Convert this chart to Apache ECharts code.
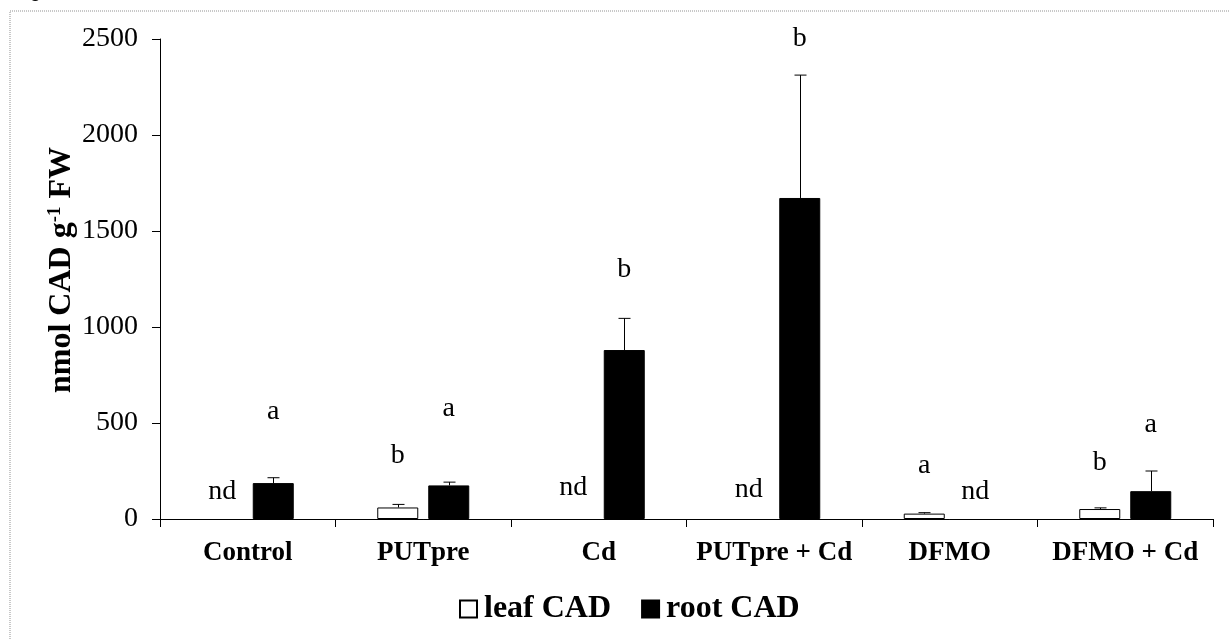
<!DOCTYPE html>
<html><head><meta charset="utf-8">
<script src="https://cdn.jsdelivr.net/npm/echarts@6/dist/echarts.min.js"></script>
<style>html,body{margin:0;padding:0;background:#fff}#c{width:1230px;height:639px}</style>
</head><body><div id="c"></div>
<script>
// ---- data ----
const categories = ['Control', 'PUTpre', 'Cd', 'PUTpre + Cd', 'DFMO', 'DFMO + Cd'];
const seriesNames = ['leaf CAD', 'root CAD'];
const leafCAD = [null, 60, null, null, 28, 52];        // null where "nd"
const leafErr = [0, 16, 0, 0, 5, 6];
const rootCAD = [187, 175, 880, 1672, null, 145];
const rootErr = [28, 17, 165, 640, 0, 105];
const leafLetters = ['nd', 'b', 'nd', 'nd', 'a', 'b'];
const rootLetters = ['a', 'a', 'b', 'b', 'nd', 'a'];
const leafLetterAt = [142, 329, 163, 152, 277, 293];   // axis value at letter centre
const rootLetterAt = [558, 574, 1297, 2500, 142, 491];
const yMin = 0, yMax = 2500, yStep = 500;

// ---- chart ----
const FONT = '"Liberation Serif", "Times New Roman", serif';
const BAR_W = 41, BAR_GAP = 10;
const OFF = (BAR_W + BAR_GAP) / 2;

const chart = echarts.init(document.getElementById('c'), null, {renderer: 'canvas'});

function errItem(vals, errs, dir) {
  return function (params, api) {
    const i = api.value(0);
    const v = vals[i], e = errs[i];
    if (v == null || !e) return null;
    const p0 = api.coord([i, v]);
    const p1 = api.coord([i, v + e]);
    const x = Math.round(p0[0] + dir * OFF) + 0.5;
    return {
      type: 'group',
      children: [
        {type: 'line', shape: {x1: x, y1: p0[1], x2: x, y2: p1[1]}, style: {stroke: '#000', lineWidth: 1}},
        {type: 'line', shape: {x1: x - 6, y1: p1[1], x2: x + 6, y2: p1[1]}, style: {stroke: '#000', lineWidth: 1}}
      ]
    };
  };
}
function letterItem(letters, at, dir) {
  return function (params, api) {
    const i = api.value(0);
    const p = api.coord([i, at[i]]);
    return {
      type: 'text',
      style: {text: letters[i], x: p[0] + dir * OFF, y: p[1], align: 'center', verticalAlign: 'middle',
        font: '28px ' + FONT, fill: '#000'}
    };
  };
}

const idx = categories.map((c, i) => [i]);

chart.setOption({
  animation: false,
  backgroundColor: '#fff',
  textStyle: {fontFamily: FONT, color: '#000'},
  grid: {left: 160, right: 17, top: 39, bottom: 120, containLabel: false},
  legend: {
    data: seriesNames,
    left: 454, top: 588,
    icon: 'rect', itemWidth: 17, itemHeight: 17, itemGap: 30,
    textStyle: {fontFamily: FONT, fontWeight: 'bold', fontSize: 32, color: '#000', padding: [0, 0, 0, 2]},
    selectedMode: false
  },
  xAxis: {
    type: 'category',
    data: categories,
    axisLine: {lineStyle: {color: '#000', width: 1}},
    axisTick: {show: true, length: 8, lineStyle: {color: '#000'}, alignWithLabel: false},
    axisLabel: {fontFamily: FONT, fontWeight: 'bold', fontSize: 27, color: '#000', margin: 21, interval: 0}
  },
  yAxis: {
    type: 'value', min: yMin, max: yMax, interval: yStep,
    splitLine: {show: false},
    axisLine: {show: true, lineStyle: {color: '#000', width: 1}},
    axisTick: {show: true, length: 8, lineStyle: {color: '#000'}},
    axisLabel: {fontFamily: FONT, fontSize: 28, color: '#000', margin: 22, formatter: v => String(v)}
  },
  series: [
    {name: seriesNames[0], type: 'bar', data: leafCAD, barWidth: BAR_W, barGap: (BAR_GAP / BAR_W * 100) + '%',
      itemStyle: {color: '#fff', borderColor: '#000', borderWidth: 1}},
    {name: seriesNames[1], type: 'bar', data: rootCAD, barWidth: BAR_W,
      itemStyle: {color: '#000', borderColor: '#000', borderWidth: 1}},
    {type: 'custom', data: idx, renderItem: errItem(leafCAD, leafErr, -1), z: 5, clip: false},
    {type: 'custom', data: idx, renderItem: errItem(rootCAD, rootErr, 1), z: 5, clip: false},
    {type: 'custom', data: idx, renderItem: letterItem(leafLetters, leafLetterAt, -1), z: 6, clip: false},
    {type: 'custom', data: idx, renderItem: letterItem(rootLetters, rootLetterAt, 1), z: 6, clip: false}
  ],
  graphic: [
    {type: 'polyline', shape: {points: [[10, 639], [10, 11], [1230, 11]]},
      style: {stroke: '#c8c8c8', lineWidth: 2, lineDash: [1, 1], fill: null}, silent: true},
    {type: 'text', left: 13, top: -19, style: {text: 'Fig. 6', font: '20px "Liberation Sans", sans-serif', fill: '#000'}},
    {type: 'text', x: 62, y: 270, rotation: Math.PI / 2, silent: true,
      style: {
        text: '{b|nmol CAD g}{s|-1}{b| FW}', align: 'center', verticalAlign: 'middle',
        rich: {
          b: {fontFamily: FONT, fontWeight: 'bold', fontSize: 32, fill: '#000'},
          s: {fontFamily: FONT, fontWeight: 'bold', fontSize: 19, fill: '#000', verticalAlign: 'top', padding: [0, 0, 12, 0]}
        }
      }}
  ]
});
</script></body></html>
